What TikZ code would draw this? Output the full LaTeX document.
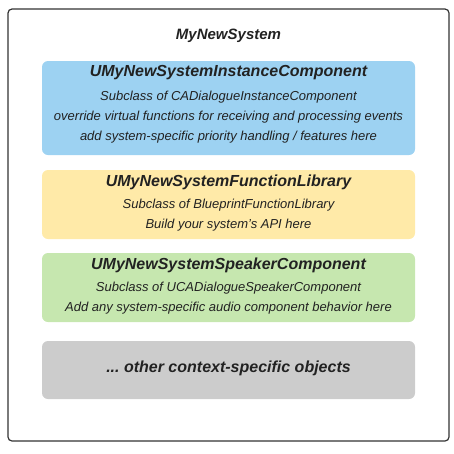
\documentclass[tikz,border=0pt]{standalone}
\usepackage{fontspec}
\setmainfont{Liberation Sans}
\frenchspacing
\definecolor{txt}{HTML}{222222}
\definecolor{bluef}{HTML}{9DD2F2}
\definecolor{yellowf}{HTML}{FFEAA8}
\definecolor{greenf}{HTML}{C6E7AF}
\definecolor{grayf}{HTML}{CCCCCC}
\definecolor{frame}{HTML}{333333}
\begin{document}
\begin{tikzpicture}[x=1pt,y=-1pt,
  panel/.style={rounded corners=6pt, draw=none},
  ttl/.style={font=\fontsize{15}{18}\selectfont\bfseries\itshape, text=txt, inner sep=0pt},
  sub/.style={font=\fontsize{13}{19.8}\selectfont\itshape, text=txt, align=center, inner sep=0pt},
  big/.style={font=\fontsize{16}{19}\selectfont\bfseries\itshape, text=txt, inner sep=0pt}]
\useasboundingbox (0,0) rectangle (454,453);
\draw[frame, line width=1.2pt, rounded corners=4pt] (8,9) rectangle (449,441);
\node[ttl] (sys) at (228.5,36) {MyNewSystem};
\fill[bluef, panel] (42,61) rectangle (415,155);
\node[big] (inst) at (228.5,73) {UMyNewSystemInstanceComponent};
\node[sub] (instd) at (228.5,117) {Subclass of CADialogueInstanceComponent\\override virtual functions for receiving and processing events\\add system-specific priority handling / features here};
\fill[yellowf, panel] (42,170) rectangle (415,239);
\node[big] (lib) at (228.5,182) {UMyNewSystemFunctionLibrary};
\node[sub] (libd) at (228.5,215.5) {Subclass of BlueprintFunctionLibrary\\Build your system's API here};
\fill[greenf, panel] (42,253) rectangle (415,322);
\node[big] (spk) at (228.5,265) {UMyNewSystemSpeakerComponent};
\node[sub] (spkd) at (228.5,298.5) {Subclass of UCADialogueSpeakerComponent\\Add any system-specific audio component behavior here};
\fill[grayf, panel] (42,341) rectangle (415,399);
\node[big] (oth) at (228.5,368) {...\ other context-specific objects};
\end{tikzpicture}
\end{document}
